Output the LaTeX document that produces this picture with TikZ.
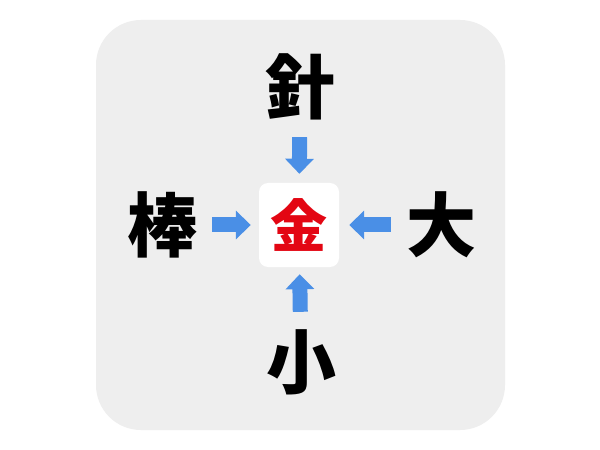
\documentclass[tikz,border=0pt]{standalone}
\usepackage{fontspec}
\usetikzlibrary{arrows.meta}
\newfontfamily\cjk{Noto Sans CJK JP}
\definecolor{panelgray}{HTML}{EEEEEE}
\definecolor{arrowblue}{HTML}{4A8FE6}
\definecolor{kinred}{HTML}{E30613}

\begin{document}
\begin{tikzpicture}[x=1bp,y=-1bp]
    \tikzstyle{kanji}=[font=\cjk\bfseries\fontsize{70bp}{70bp}\selectfont,inner sep=0,minimum size=100bp]
    \tikzstyle{centre}=[fill=white,rounded corners=9bp,inner sep=0,minimum width=80bp,minimum height=84bp,text=kinred,font=\cjk\bfseries\fontsize{57bp}{57bp}\selectfont]
    \tikzstyle{blockarrow}=[line width=15bp,arrowblue,-{Triangle[width=28bp,length=15bp]}]
    \useasboundingbox (0,0) rectangle (600,450);
    \fill[white] (0,0) rectangle (600,450);
    \fill[panelgray, rounded corners=45bp] (96,20) rectangle (505,430);

    \node at (299,225) (kin) [centre] {金};

    \node at (300,87) (hari) [kanji] {針};
    \node at (162,225) (bou) [kanji] {棒};
    \node at (441,225) (dai) [kanji] {大};
    \node at (301,362) (sho) [kanji] {小};

    \draw[blockarrow, shorten >=9bp] (hari) -- (kin);
    \draw[blockarrow, shorten >=8bp] (bou) -- (kin);
    \draw[blockarrow, shorten >=10bp] (dai) -- (kin);
    \draw[blockarrow, shorten >=7bp] (sho) -- (kin);

\end{tikzpicture}
\end{document}
